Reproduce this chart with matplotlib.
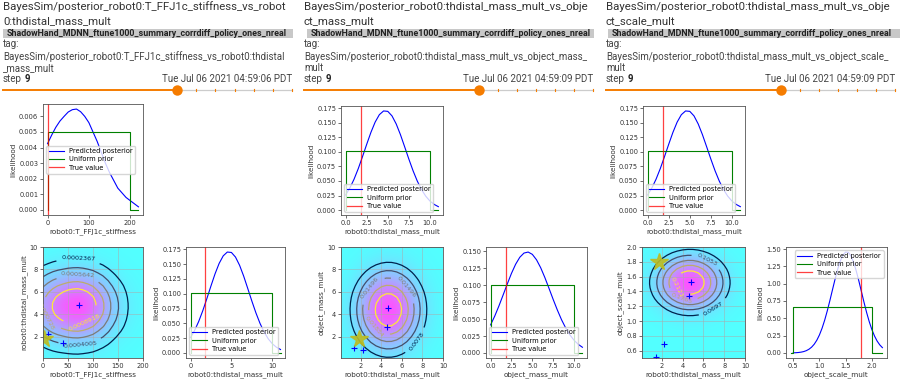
import numpy as np
import matplotlib.pyplot as plt
from matplotlib.patches import Rectangle
from matplotlib.lines import Line2D
from matplotlib.colors import PowerNorm

W, H = 900, 385

# ---------------- header text ----------------
run_name = "ShadowHand_MDNN_ftune1000_summary_corrdiff_policy_ones_nreal"
title_lines = [
    ["BayesSim/posterior_robot0:T_FFJ1c_stiffness_vs_robot", "0:thdistal_mass_mult"],
    ["BayesSim/posterior_robot0:thdistal_mass_mult_vs_obje", "ct_mass_mult"],
    ["BayesSim/posterior_robot0:thdistal_mass_mult_vs_obje", "ct_scale_mult"],
]
tag_lines = [
    ["BayesSim/posterior_robot0:T_FFJ1c_stiffness_vs_robot0:thdistal", "_mass_mult"],
    ["BayesSim/posterior_robot0:thdistal_mass_mult_vs_object_mass_", "mult"],
    ["BayesSim/posterior_robot0:thdistal_mass_mult_vs_object_scale_", "mult"],
]
dates = ["Tue Jul 06 2021 04:59:06 PDT", "Tue Jul 06 2021 04:59:09 PDT",
         "Tue Jul 06 2021 04:59:09 PDT"]
step = 9
n_steps = 16

# ---------------- 1D posteriors ----------------
stiff_x = [0, 10, 20, 30, 40, 50, 60, 70, 80, 90, 100, 110, 120, 130, 140, 150,
           160, 170, 180, 190, 200, 210, 220]
stiff_post = [0.00425, 0.0048, 0.0053, 0.0057, 0.0060, 0.00628, 0.00643, 0.00647,
              0.0063, 0.0060, 0.0056, 0.0050, 0.0044, 0.0037, 0.0030, 0.0024,
              0.0019, 0.0014, 0.0011, 0.0008, 0.0006, 0.0004, 0.0002]
stiff_prior_x = [0, 0, 200, 200, 220]
stiff_prior_y = [0, 0.005, 0.005, 0, 0]
stiff_true = 1.5

thd_x = [0.0, 0.5, 1.0, 1.5, 2.0, 2.5, 3.0, 3.5, 4.0, 4.5, 5.0, 5.5, 6.0, 6.5,
         7.0, 7.5, 8.0, 8.5, 9.0, 9.5, 10.0, 10.5, 11.0]
thd_post = [0.0259, 0.0379, 0.0531, 0.0713, 0.0918, 0.1131, 0.1336, 0.1512, 0.1640,
            0.1704, 0.1697, 0.1619, 0.1480, 0.1297, 0.1088, 0.0876, 0.0675, 0.0498,
            0.0353, 0.0239, 0.0155, 0.0097, 0.0058]
mult_prior_x = [0.1, 0.1, 10, 10, 11]
mult_prior_y = [0, 0.101, 0.101, 0, 0]
thd_true = 1.8

objm_x = thd_x
objm_post = [0.0414, 0.0545, 0.0694, 0.0855, 0.1018, 0.1174, 0.1309, 0.1412, 0.1474,
             0.1489, 0.1455, 0.1375, 0.1258, 0.1113, 0.0953, 0.0789, 0.0633, 0.0490,
             0.0368, 0.0267, 0.0187, 0.0127, 0.0084]
objm_true = 1.8

scale_x = [0.50, 0.55, 0.60, 0.65, 0.70, 0.75, 0.80, 0.85, 0.90, 0.95, 1.00, 1.05,
           1.10, 1.15, 1.20, 1.25, 1.30, 1.35, 1.40, 1.45, 1.50, 1.55, 1.60, 1.65,
           1.70, 1.75, 1.80, 1.85, 1.90, 1.95, 2.00, 2.05, 2.10, 2.15, 2.20]
scale_post = [0.0019, 0.0036, 0.0066, 0.0117, 0.0200, 0.0333, 0.0536, 0.0834, 0.1257,
              0.1838, 0.2603, 0.3569, 0.4741, 0.6098, 0.7599, 0.9172, 1.0722, 1.2143,
              1.3319, 1.4150, 1.4563, 1.4517, 1.4016, 1.3108, 1.1874, 1.0420, 0.8855,
              0.7290, 0.5812, 0.4490, 0.3360, 0.2435, 0.1708, 0.1162, 0.0765]
scale_prior_x = [0.45, 0.5, 0.5, 2.0, 2.0, 2.2]
scale_prior_y = [0, 0, 0.667, 0.667, 0, 0]
scale_true = 1.8

# contour levels printed on the joint plots
levels_a = [0.0002367, 0.0004005, 0.0005642, 0.000728, 0.0008918]
levels_b = [0.0078, 0.01138, 0.01496, 0.01854, 0.02212]
levels_c = [0.0697, 0.1053, 0.1409, 0.1765, 0.2121]

# '+' samples and the star (true value) on the joint plots
samp_a_x, samp_a_y = [71, 10, 40], [4.8, 2.2, 1.4]
star_a = (2, 1.8)
samp_b_x, samp_b_y = [4.7, 4.6, 1.4, 2.2], [4.55, 2.9, 0.95, 0.85]
star_b = (1.8, 1.8)
samp_c_x, samp_c_y = [4.8, 4.6, 2.2, 1.4], [1.53, 1.34, 0.69, 0.51]
star_c = (1.75, 1.8)

# where the contour labels sit
label_pos_a = [(70, 8.6), (75, 1.0), (70, 7.4), (12, 4.0), (80, 3.6)]
label_pos_b = [(7.4, 1.6), (2.8, 6.4), (6.4, 6.4), (3.5, 3.0)]
label_pos_c = [(7.3, 1.1), (6.4, 1.85), (3.3, 1.45), (3.9, 1.3)]

ORANGE = "#f57c00"
FS_TICK = 4.8
FS_LAB = 5.2
FS_HEAD = 7.0

fig = plt.figure(figsize=(9, 3.85), dpi=100)


def fx(x):
    return x / W


def fy(y):
    return 1 - y / H


def add_ax(x0, y0, x1, y1):
    ax = fig.add_axes([fx(x0), fy(y1), (x1 - x0) / W, (y1 - y0) / H])
    ax.tick_params(labelsize=FS_TICK, length=2, width=0.5, pad=1.5, colors="#333")
    for s in ax.spines.values():
        s.set_linewidth(0.6)
        s.set_color("#555")
    return ax


def line_panel(rect, x, post, px, py, true, xlabel, xticks, xfmt, yticks, yfmt, loc):
    ax = add_ax(*rect)
    ax.plot(x, post, color="b", lw=0.8, label="Predicted posterior")
    ax.plot(px, py, color="g", lw=0.8, label="Uniform prior")
    ax.axvline(true, color="r", lw=0.9, alpha=0.75, label="True value")
    ax.set_xticks(xticks)
    ax.set_xticklabels([xfmt % v for v in xticks])
    ax.set_yticks(yticks)
    ax.set_yticklabels([yfmt % v for v in yticks])
    ax.set_xlabel(xlabel, fontsize=FS_LAB, labelpad=2, color="#333")
    ax.set_ylabel("likelihood", fontsize=FS_LAB, labelpad=2, color="#333")
    ax.legend(loc=loc, fontsize=4.8, handlelength=2.2, borderpad=0.4,
              labelspacing=0.35, framealpha=0.8, edgecolor="#ccc", fancybox=True)
    return ax


def joint_panel(rect, gx, mx, gy, my, levels, lab_pos, sx, sy, star, xlim, ylim,
                xticks, yticks, yfmt, xlabel, ylabel):
    ax = add_ax(*rect)
    X, Y = np.meshgrid(gx, gy)
    Z = np.outer(my, mx)
    ax.imshow(Z, extent=(gx[0], gx[-1], gy[0], gy[-1]), origin="lower", aspect="auto",
              cmap="cool", norm=PowerNorm(1.4, vmin=0, vmax=Z.max()), alpha=0.68,
              interpolation="bicubic")
    cs = ax.contour(X, Y, Z, levels=levels, cmap="cividis", linewidths=0.9)
    ax.set_xlim(*xlim)
    ax.set_ylim(*ylim)
    ax.clabel(cs, fmt="%.4g", fontsize=4.6, inline=True, manual=lab_pos)
    ax.plot(sx, sy, "+", color="b", ms=5, mew=0.8)
    ax.plot([star[0]], [star[1]], "*", color="#bcbd22", ms=13, alpha=0.9)
    ax.grid(True, color="#aaaaaa", lw=0.5, alpha=0.7)
    ax.set_xlim(*xlim)
    ax.set_ylim(*ylim)
    ax.set_xticks(xticks)
    ax.set_yticks(yticks)
    ax.set_yticklabels([yfmt % v for v in yticks])
    ax.set_xlabel(xlabel, fontsize=FS_LAB, labelpad=2, color="#333")
    ax.set_ylabel(ylabel, fontsize=FS_LAB, labelpad=2, color="#333")
    return ax


# ---------------- headers ----------------
col_left = [3, 304, 606]
col_right = [292, 593, 895]
box_span = [(3, 293), (307, 594), (608, 900)]
knob_x = [177, 479, 781]

for i in range(3):
    x0, x1 = col_left[i], col_right[i]
    fig.text(fx(x0), fy(7), title_lines[i][0], fontsize=8.2, family="Roboto",
             color="#333", va="center")
    fig.text(fx(x0), fy(21), title_lines[i][1], fontsize=8.2, family="Roboto",
             color="#333", va="center")
    b0, b1 = box_span[i]
    rect = Rectangle((fx(b0), fy(38)), (b1 - b0) / W, 9 / H, transform=fig.transFigure,
                     color="#c8c8c8", lw=0)
    fig.patches.append(rect)
    t = fig.text(fx(b0 + 4), fy(33.5), run_name, fontsize=6.4, family="Roboto",
                 weight="bold", color="#222", va="center")
    t.set_clip_path(rect)
    fig.text(fx(x0), fy(44), "tag:", fontsize=FS_HEAD, family="Roboto", color="#444",
             va="center")
    fig.text(fx(x0), fy(57), tag_lines[i][0], fontsize=FS_HEAD, family="Roboto",
             color="#444", va="center")
    fig.text(fx(x0), fy(68), tag_lines[i][1], fontsize=FS_HEAD, family="Roboto",
             color="#444", va="center")
    fig.text(fx(x0), fy(79), "step", fontsize=FS_HEAD, family="Roboto", color="#444",
             va="center")
    fig.text(fx(x0 + 22), fy(79), str(step), fontsize=FS_HEAD, family="Roboto",
             weight="bold", color="#222", va="center")
    fig.text(fx(x1), fy(79), dates[i], fontsize=FS_HEAD, family="Roboto", color="#444",
             va="center", ha="right")
    # step slider
    kx = knob_x[i]
    fig.add_artist(Line2D([fx(kx), fx(x1)], [fy(90), fy(90)], color="#cccccc", lw=0.9))
    fig.add_artist(Line2D([fx(x0), fx(kx)], [fy(90), fy(90)], color=ORANGE, lw=1.4))
    pitch = (x1 - kx) / (n_steps - 1 - step)
    for k in range(1, n_steps - step):
        tx = kx + k * pitch
        fig.add_artist(Line2D([fx(tx), fx(tx)], [fy(89), fy(91)], color=ORANGE, lw=0.8))
    fig.add_artist(Line2D([fx(kx)], [fy(90)], marker="o", ms=7.5, color=ORANGE, mew=0))

# ---------------- top row: marginal of first parameter ----------------
line_panel((43, 104, 143, 215), stiff_x, stiff_post, stiff_prior_x, stiff_prior_y,
           stiff_true, "robot0:T_FFJ1c_stiffness", [0, 100, 200], "%d",
           [0, 0.001, 0.002, 0.003, 0.004, 0.005, 0.006], "%.3f", "center left")
for i in (1, 2):
    x0 = [0, 341, 643][i]
    line_panel((x0, 106, x0 + 102, 215), thd_x, thd_post, mult_prior_x, mult_prior_y,
               thd_true, "robot0:thdistal_mass_mult", [0, 2.5, 5, 7.5, 10], "%.1f",
               [0, 0.025, 0.05, 0.075, 0.1, 0.125, 0.15, 0.175], "%.3f", "lower left")

# ---------------- bottom row: joint + second marginal ----------------
joint_panel((43, 247, 143, 358), stiff_x[:21], stiff_post[:21], thd_x[:21], thd_post[:21],
            levels_a, label_pos_a, samp_a_x, samp_a_y, star_a, (0, 200), (0.1, 10),
            [0, 50, 100, 150, 200], [2, 4, 6, 8, 10], "%d",
            "robot0:T_FFJ1c_stiffness", "robot0:thdistal_mass_mult")
line_panel((186, 247, 285, 358), thd_x, thd_post, mult_prior_x, mult_prior_y, thd_true,
           "robot0:thdistal_mass_mult", [0, 5, 10], "%d",
           [0, 0.025, 0.05, 0.075, 0.1, 0.125, 0.15, 0.175], "%.3f", "lower left")

joint_panel((341, 247, 443, 358), thd_x[:21], thd_post[:21], objm_x[:21], objm_post[:21],
            levels_b, label_pos_b, samp_b_x, samp_b_y, star_b, (0.1, 10), (0.1, 10),
            [2, 4, 6, 8, 10], [2, 4, 6, 8, 10], "%d",
            "robot0:thdistal_mass_mult", "object_mass_mult")
line_panel((486, 247, 587, 358), objm_x, objm_post, mult_prior_x, mult_prior_y, objm_true,
           "object_mass_mult", [0, 2.5, 5, 7.5, 10], "%.1f",
           [0, 0.025, 0.05, 0.075, 0.1, 0.125, 0.15], "%.3f", "lower left")

joint_panel((642, 247, 745, 358), thd_x[:21], thd_post[:21], scale_x[:31], scale_post[:31],
            levels_c, label_pos_c, samp_c_x, samp_c_y, star_c, (0.1, 10), (0.5, 2.0),
            [2, 4, 6, 8, 10], [0.6, 0.8, 1.0, 1.2, 1.4, 1.6, 1.8, 2.0], "%.1f",
            "robot0:thdistal_mass_mult", "object_scale_mult")
line_panel((786, 247, 887, 358), scale_x, scale_post, scale_prior_x, scale_prior_y,
           scale_true, "object_scale_mult", [0.5, 1.0, 1.5, 2.0], "%.1f",
           [0, 0.25, 0.5, 0.75, 1.0, 1.25, 1.5], "%.2f", "upper right")

fig.savefig("out.png", dpi=100)
